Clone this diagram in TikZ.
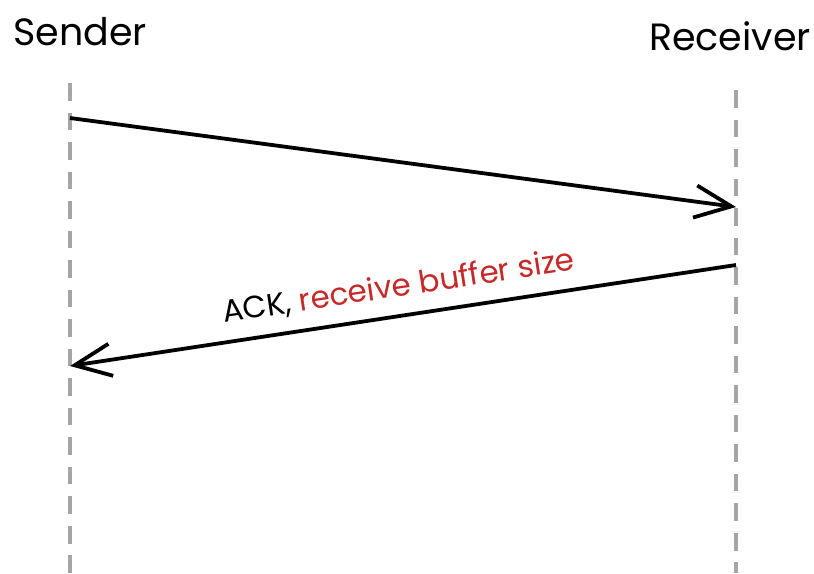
\documentclass[tikz,border=0pt]{standalone}
\usepackage{fontspec}
\setmainfont{Poppins}
\usetikzlibrary{arrows.meta}

\definecolor{lifegray}{RGB}{165,165,165}
\definecolor{labelred}{RGB}{200,40,40}

\tikzset{
    lifeline/.style={draw=lifegray,line width=2.2pt,dash pattern=on 12.5pt off 8.5pt},
    msg/.style={line width=2.7pt,-{Straight Barb[length=26pt,width=23pt,line width=2.7pt]}},
    party/.style={font=\fontsize{27}{30}\selectfont}
}

\begin{document}
\begin{tikzpicture}[x=0.025cm,y=-0.025cm]
        \useasboundingbox(0,0)rectangle(814,573);
        \node(sender)at(80,32)[party]{Sender};
        \node(receiver)at(730,36)[party]{Receiver};
        \coordinate(stop)at(70,83);
        \coordinate(sbot)at(70,573);
        \coordinate(rtop)at(736,90);
        \coordinate(rbot)at(736,573);
        \draw[lifeline](stop)--(sbot);
        \draw[lifeline](rtop)--(rbot);
        % data going out
        \coordinate(s1)at(70,118);
        \coordinate(r1)at(736,207);
        \draw[msg](s1)--(r1);
        % answer coming back
        \coordinate(r2)at(736,265);
        \coordinate(s2)at(70,366);
        \draw[msg](r2)--(s2)node[midway,sloped,above=6pt,font=\fontsize{22}{24}\selectfont]{ACK, \textcolor{labelred}{receive buffer size}};
    \end{tikzpicture}
\end{document}
